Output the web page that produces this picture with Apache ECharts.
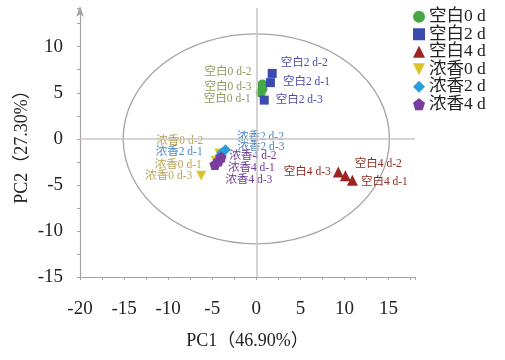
<!DOCTYPE html>
<html><head><meta charset="utf-8">
<script src="https://cdn.jsdelivr.net/npm/echarts@6/dist/echarts.min.js"></script>
<style>html,body{margin:0;padding:0;background:#fff}#c{width:505px;height:360px}</style>
</head><body><div id="c"></div>
<script>
// ---- data ----
const seriesNames = ['空白0 d','空白2 d','空白4 d','浓香0 d','浓香2 d','浓香4 d'];
const pointNames = [
  ['空白0 d-2','空白0 d-3','空白0 d-1'],
  ['空白2 d-2','空白2 d-1','空白2 d-3'],
  ['空白4 d-3','空白4 d-2','空白4 d-1'],
  ['浓香0 d-2','浓香0 d-1','浓香0 d-3'],
  ['浓香2 d-2','浓香2 d-3','浓香2 d-1'],
  ['浓香4 d-2','浓香4 d-1','浓香4 d-3']
];
const pc1Values = [
  [0.7, 0.7, 0.5],
  [1.8, 1.6, 0.9],
  [9.3, 10.1, 10.9],
  [-4.2, -4.6, -6.25],
  [-3.5, -3.9, -4.1],
  [-4.0, -4.3, -4.7]
];
const pc2Values = [
  [5.9, 5.4, 5.0],
  [7.1, 6.1, 4.2],
  [-3.6, -4.0, -4.5],
  [-1.6, -2.4, -4.0],
  [-1.2, -1.5, -1.8],
  [-2.0, -2.4, -2.8]
];
const confidenceEllipse = [0, 0, 15.1, 11.4]; // centre x, centre y, radius x, radius y
const xTickLabels = [-20, -15, -10, -5, 0, 5, 10, 15];
const yTickLabels = [-15, -10, -5, 0, 5, 10];

// ---- styles ----
const markerColors = ['#45a845','#3a4aaf','#9e2424','#dcc32c','#2a9fe0','#7a3c9e'];
const labelColors = ['#8f9a5c','#4b4cae','#8e2a22','#b9a458','#4f86c4','#6c3b98'];
const symbols = ['circle','rect','triangle','path://M0,0L10,0L5,10Z','diamond','path://M5,0L10,3.8L8.1,10L1.9,10L0,3.8Z'];
const symbolSizes = [10, 9, 11, 10, 11, 11];
// label layout per point: [position, dx, dy]
const labelLayout = [
  [['left',-2,-12],['left',-2,-2],['left',-1,6]],
  [['right',0,-10],['right',4,-1],['right',3,0]],
  [['left',2,0],['right',0,-12],['right',-1,2]],
  [['left',-7,-13],['left',-5,4],['left',0,0]],
  [['right',2,-13],['right',6,-6],['left',-8,-3]],
  [['right',-1,-1],['right',0,7],['right',1,15]]
];
const serif = "'Liberation Serif','Noto Sans CJK SC'";

const series = seriesNames.map((name, s) => ({
  name: name,
  type: 'scatter',
  symbol: symbols[s],
  symbolSize: symbolSizes[s],
  itemStyle: {color: markerColors[s], opacity: 1},
  z: 3,
  data: pc1Values[s].map((x, i) => ({
    name: pointNames[s][i],
    value: [x, pc2Values[s][i]],
    label: {
      show: true,
      formatter: pointNames[s][i],
      position: labelLayout[s][i][0],
      distance: 4,
      offset: [labelLayout[s][i][1], labelLayout[s][i][2]],
      color: labelColors[s],
      fontFamily: serif,
      fontSize: 11.5
    }
  }))
}));

series.unshift({
  type: 'custom',
  silent: true,
  z: 1,
  data: [confidenceEllipse],
  renderItem: function (params, api) {
    const c = api.coord([api.value(0), api.value(1)]);
    const sz = api.size([api.value(2), api.value(3)]);
    const rx = sz[0], ry = sz[1];
    const d = 'M' + (c[0]-rx) + ' ' + c[1] +
      ' A' + rx + ' ' + ry + ' 0 1 0 ' + (c[0]+rx) + ' ' + c[1] +
      ' A' + rx + ' ' + ry + ' 0 1 0 ' + (c[0]-rx) + ' ' + c[1] + ' Z';
    return {type: 'path', shape: {pathData: d}, style: {fill: 'none', stroke: '#a9a2a2', lineWidth: 1.3}};
  },
  markLine: {
    silent: true, symbol: 'none', label: {show: false},
    lineStyle: {color: '#cbc4c4', width: 1.5, type: 'solid'},
    data: [{xAxis: 0}, {yAxis: 0}]
  }
});

const chart = echarts.init(document.getElementById('c'), null, {renderer: 'canvas'});
chart.setOption({
  animation: false,
  backgroundColor: '#fff',
  grid: {left: 80, right: 90, top: 8, bottom: 83},
  legend: {
    orient: 'vertical', left: 408, top: 3,
    itemWidth: 12, itemHeight: 12, itemGap: 0,
    data: seriesNames.map((n, i) => ({name: n, icon: symbols[i]})),
    textStyle: {fontFamily: serif, fontSize: 17.5, color: '#222', padding: [0,0,0,-1]}
  },
  xAxis: {
    type: 'value', min: -20, max: 18, interval: 5,
    name: 'PC1（46.90%）', nameLocation: 'middle', nameGap: 55,
    nameTextStyle: {fontFamily: serif, fontSize: 18, color: '#222'},
    splitLine: {show: false},
    axisLine: {onZero: false, lineStyle: {color: '#aaa2a2', width: 1.2}},
    axisTick: {show: true, length: 3, inside: false, lineStyle: {color: '#aaa2a2'}},
    minorTick: {show: true, splitNumber: 2, length: 3, lineStyle: {color: '#aaa2a2'}},
    axisLabel: {
      margin: 23, fontFamily: serif, fontSize: 19, color: '#222', showMaxLabel: false,
      formatter: v => xTickLabels.indexOf(v) >= 0 ? String(v) : ''
    }
  },
  yAxis: {
    type: 'value', min: -15, max: 14.2, interval: 5,
    name: 'PC2（27.30%）', nameLocation: 'middle', nameGap: 49, nameMoveOverlap: false,
    nameTextStyle: {fontFamily: serif, fontSize: 18, color: '#222'},
    splitLine: {show: false},
    axisLine: {onZero: false, symbol: ['none','arrow'], symbolSize: [6,11], symbolOffset: [0,2], lineStyle: {color: '#aaa2a2', width: 1.2}},
    axisTick: {show: true, length: 3, lineStyle: {color: '#aaa2a2'}},
    minorTick: {show: true, splitNumber: 2, length: 3, lineStyle: {color: '#aaa2a2'}},
    axisLabel: {
      margin: 17, fontFamily: serif, fontSize: 19, color: '#222', showMaxLabel: false,
      formatter: v => yTickLabels.indexOf(v) >= 0 ? String(v) : ''
    }
  },
  series: series
});
</script>
</body></html>
